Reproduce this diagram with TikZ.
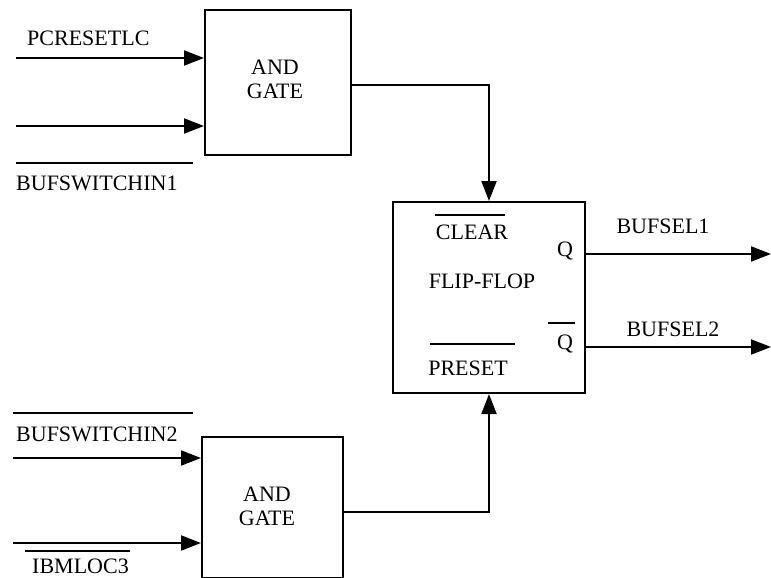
\documentclass[tikz,border=0pt]{standalone}
\usepackage{fontspec}
\setmainfont{Liberation Serif}
\usetikzlibrary{arrows.meta}
\begin{document}
\begin{tikzpicture}[x=1pt,y=-1pt,
  blk/.style={draw,line width=2pt,minimum width=#1,minimum height=#1,inner sep=0pt},
  lbl/.style={font=\fontsize{22}{24}\selectfont,inner sep=0pt},
  wire/.style={line width=2pt},
  arr/.style={wire,-{Triangle[length=20pt,width=15pt]}},
  bar/.style={line width=1.8pt}]
\useasboundingbox (0,0) rectangle (771,578);
% blocks
\node[blk=145pt,minimum width=146pt] (and1) at (278,82.5) {};
\node[blk=191pt,minimum width=192pt] (ff) at (489,297.5) {};
\node[blk=141pt] (and2) at (272.5,507.5) {};
% block texts
\node[lbl,align=center] (and1t) at (275,79) {AND\\GATE};
\node[lbl,align=center] (and2t) at (267,506) {AND\\GATE};
\node[lbl] (clr) at (472,232) {CLEAR};
\node[lbl] (ffl) at (482,281) {FLIP-FLOP};
\node[lbl] (pre) at (468,368) {PRESET};
\node[lbl] (q1) at (565,251) {Q};
\node[lbl] (q2) at (565,344) {Q};
\draw[bar] (435,215) -- (505,215);
\draw[bar] (430,344) -- (515,344);
\draw[bar] (548,323) -- (575,323);
% input labels
\node[lbl,anchor=west] (l1) at (27,38) {PCRESETLC};
\node[lbl,anchor=west] (l2) at (16,183) {BUFSWITCHIN1};
\draw[bar] (16,163) -- (193,163);
\node[lbl,anchor=west] (l3) at (16,434) {BUFSWITCHIN2};
\draw[bar] (13,413) -- (193,413);
\node[lbl,anchor=west] (l4) at (32,566) {IBMLOC3};
\draw[bar] (25,551) -- (130,551);
\node[lbl] (l5) at (663,226) {BUFSEL1};
\node[lbl] (l6) at (673,329) {BUFSEL2};
% input wires
\coordinate (i1) at (16,58);
\coordinate (i2) at (16,126);
\coordinate (i3) at (13,458);
\coordinate (i4) at (13,543);
\draw[arr] (i1) -- (i1 -| and1.west);
\draw[arr] (i2) -- (i2 -| and1.west);
\draw[arr] (i3) -- (i3 -| and2.west);
\draw[arr] (i4) -- (i4 -| and2.west);
% gate outputs to flip-flop
\coordinate (o1) at (351,85);
\coordinate (o2) at (343,512);
\draw[arr] (o1 -| and1.east) -| (ff.north);
\draw[arr] (o2 -| and2.east) -| (ff.south);
% flip-flop outputs
\coordinate (e1) at (771,254);
\coordinate (e2) at (771,347);
\draw[arr] (e1 -| ff.east) -- (e1);
\draw[arr] (e2 -| ff.east) -- (e2);
\end{tikzpicture}
\end{document}
